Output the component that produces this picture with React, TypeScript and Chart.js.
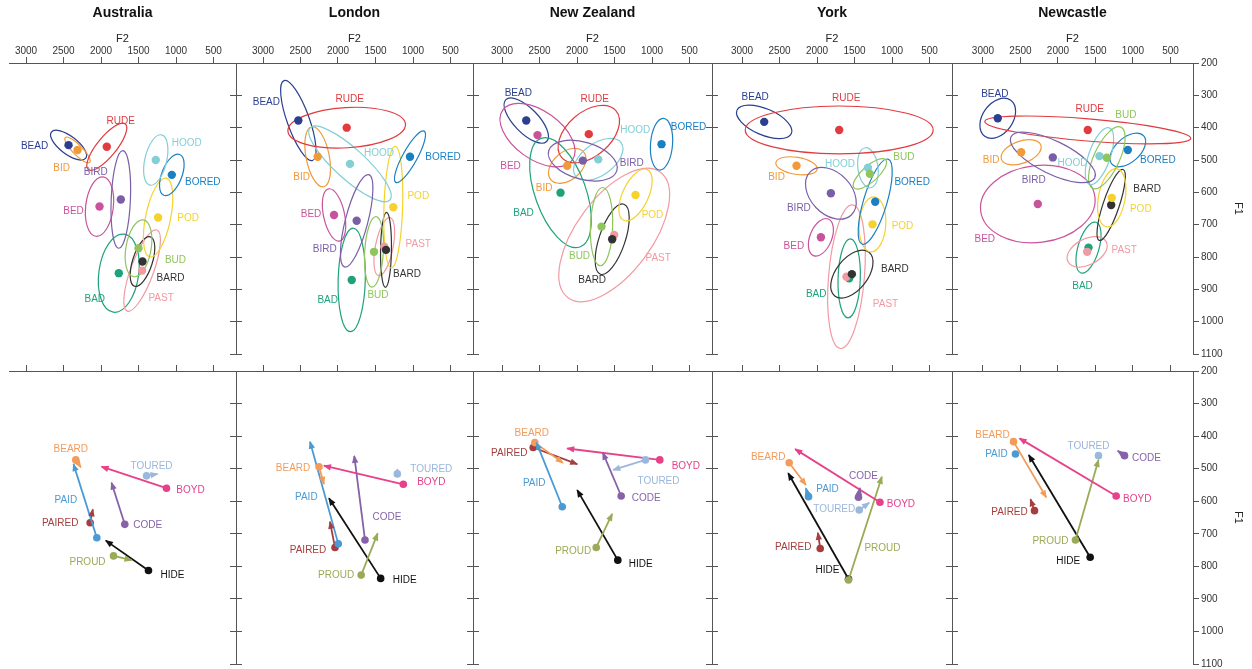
import React, { useEffect, useRef } from "react";
import { Chart, registerables } from "chart.js";

Chart.register(...registerables);
Chart.defaults.font.family = '"Liberation Sans", Arial, Helvetica, sans-serif';

// ---------- categories ----------
const REGIONS = ["Australia", "London", "New Zealand", "York", "Newcastle"];
const MONO = ["BEAD", "BID", "BED", "BAD", "PAST", "BARD", "POD", "BORED", "HOOD", "RUDE", "BUD", "BIRD"];
const DIPH = ["BEARD", "PAID", "PAIRED", "TOURED", "BOYD", "CODE", "PROUD", "HIDE"];
const F2_TICKS = [3000, 2500, 2000, 1500, 1000, 500];
const F1_TICKS = [200, 300, 400, 500, 600, 700, 800, 900, 1000, 1100];

// ---------- monophthongs: mean F2, mean F1, ellipse half-extent F2 / F1 (Hz), F2–F1 correlation ----------
const ausMonoF2 = [2433, 2313, 2020, 1763, 1452, 1447, 1239, 1056, 1270, 1923, 1500, 1736];
const ausMonoF1 = [454, 469, 644, 850, 842, 814, 678, 546, 500, 459, 773, 622];
const ausSpreadF2 = [240, 169, 189, 273, 244, 164, 196, 164, 162, 267, 178, 131];
const ausSpreadF1 = [46, 40, 92, 121, 126, 77, 122, 64, 78, 73, 88, 151];
const ausCorr = [-0.7, -0.85, 0.2, 0.2, 0.75, 0.55, 0.5, 0.5, 0.4, 0.8, 0.3, 0.2];

const lonMonoF2 = [2529, 2271, 2053, 1817, 1383, 1360, 1263, 1040, 1840, 1884, 1520, 1751];
const lonMonoF1 = [378, 490, 670, 871, 768, 778, 646, 490, 512, 400, 784, 688];
const lonSpreadF2 = [236, 171, 156, 182, 138, 73, 127, 207, 549, 784, 127, 216];
const lonSpreadF1 = [124, 93, 81, 160, 90, 116, 188, 80, 117, 63, 109, 143];
const lonCorr = [-0.75, -0.4, -0.4, 0.1, 0.5, 0.1, 0.2, 0.85, -0.85, 0.15, 0.2, 0.7];

const nzMonoF2 = [2677, 2131, 2527, 2220, 1504, 1531, 1220, 873, 1717, 1843, 1673, 1923];
const nzMonoF1 = [378, 518, 423, 601, 732, 745, 608, 451, 498, 420, 706, 502];
const nzSpreadF2 = [296, 249, 500, 411, 738, 227, 222, 149, 329, 409, 149, 460];
const nzSpreadF1 = [70, 54, 98, 170, 206, 109, 80, 80, 65, 89, 121, 63];
const nzCorr = [-0.7, 0.4, -0.5, -0.5, 0.6, 0.6, 0.55, 0.15, 0.5, 0.45, 0.1, -0.35];

const yorkMonoF2 = [2704, 2273, 1948, 1571, 1607, 1535, 1260, 1224, 1321, 1704, 1295, 1815];
const yorkMonoF1 = [382, 518, 739, 866, 861, 853, 699, 629, 524, 407, 543, 603];
const yorkSpreadF2 = [369, 276, 167, 149, 251, 282, 178, 227, 138, 1253, 222, 338];
const yorkSpreadF1 = [52, 28, 58, 122, 222, 74, 85, 132, 62, 74, 47, 80];
const yorkCorr = [-0.55, -0.3, 0.4, 0.1, 0.3, 0.5, 0.1, 0.7, -0.2, 0, 0.75, -0.35];

const ncMonoF2 = [2803, 2491, 2269, 1593, 1611, 1291, 1283, 1069, 1447, 1603, 1349, 2069];
const ncMonoF1 = [371, 476, 636, 771, 784, 639, 617, 469, 488, 407, 493, 492];
const ncSpreadF2 = [238, 267, 764, 167, 267, 189, 189, 238, 189, 1373, 244, 567];
const ncSpreadF1 = [62, 39, 120, 79, 47, 110, 90, 52, 88, 43, 96, 78];
const ncCorr = [0.35, 0.4, 0.1, 0.5, 0.4, 0.8, 0.3, 0.5, 0.6, -0.6, 0.65, -0.7];

// ---------- diphthongs: onset and offset (F2, F1) ----------
const ausOnF2 = [2336, 2056, 2145, 1393, 1127, 1683, 1833, 1367];
const ausOnF1 = [473, 712, 666, 522, 560, 671, 768, 813];
const ausOffF2 = [2269, 2367, 2109, 1247, 1993, 1860, 1593, 1936];
const ausOffF1 = [496, 486, 625, 516, 494, 543, 781, 721];

const lonOnF2 = [2253, 1996, 2040, 1209, 1129, 1640, 1691, 1431];
const lonOnF1 = [494, 731, 742, 516, 548, 719, 827, 837];
const lonOffF2 = [2187, 2373, 2107, 1209, 2187, 1783, 1471, 2120];
const lonOffF1 = [547, 417, 663, 502, 491, 461, 699, 591];

const nzOnF2 = [2563, 2197, 2584, 1087, 896, 1411, 1744, 1456];
const nzOnF1 = [420, 617, 435, 473, 473, 584, 742, 781];
const nzOffF2 = [2189, 2540, 1997, 1517, 2131, 1656, 1531, 1997];
const nzOffF1 = [482, 420, 486, 504, 438, 451, 639, 566];

const yorkOnF2 = [2371, 2113, 1957, 1437, 1161, 1447, 1580, 1580];
const yorkOnF1 = [482, 586, 745, 627, 603, 588, 842, 839];
const yorkOffF2 = [2148, 2148, 1988, 1304, 2291, 1428, 1135, 2384];
const yorkOffF1 = [550, 560, 697, 605, 440, 559, 525, 514];

const ncOnF2 = [2593, 2567, 2313, 1460, 1224, 1113, 1767, 1571];
const ncOnF1 = [417, 455, 629, 460, 584, 460, 719, 772];
const ncOffF2 = [2157, 2567, 2367, 1460, 2513, 1203, 1460, 2389];
const ncOffF1 = [588, 455, 594, 460, 407, 445, 473, 458];

const MONO_SETS = [
  { f2: ausMonoF2, f1: ausMonoF1, sF2: ausSpreadF2, sF1: ausSpreadF1, r: ausCorr },
  { f2: lonMonoF2, f1: lonMonoF1, sF2: lonSpreadF2, sF1: lonSpreadF1, r: lonCorr },
  { f2: nzMonoF2, f1: nzMonoF1, sF2: nzSpreadF2, sF1: nzSpreadF1, r: nzCorr },
  { f2: yorkMonoF2, f1: yorkMonoF1, sF2: yorkSpreadF2, sF1: yorkSpreadF1, r: yorkCorr },
  { f2: ncMonoF2, f1: ncMonoF1, sF2: ncSpreadF2, sF1: ncSpreadF1, r: ncCorr },
];
const DIPH_SETS = [
  { onF2: ausOnF2, onF1: ausOnF1, offF2: ausOffF2, offF1: ausOffF1 },
  { onF2: lonOnF2, onF1: lonOnF1, offF2: lonOffF2, offF1: lonOffF1 },
  { onF2: nzOnF2, onF1: nzOnF1, offF2: nzOffF2, offF1: nzOffF1 },
  { onF2: yorkOnF2, onF1: yorkOnF1, offF2: yorkOffF2, offF1: yorkOffF1 },
  { onF2: ncOnF2, onF1: ncOnF1, offF2: ncOffF2, offF1: ncOffF1 },
];

// ---------- styles & layout ----------
const MONO_COLORS = ["#2a3f8f", "#f09a3a", "#c9539b", "#1fa27b", "#f29aa2", "#333333", "#f5d22e", "#1b80c2", "#82cfd6", "#e13b40", "#8fc55c", "#7a5fa8"];
const DIPH_COLORS = ["#f39c5a", "#4a9ad6", "#a63e3e", "#9bb7dd", "#e6418a", "#8762a8", "#9aab57", "#111111"];
const AXIS_COLOR = "#555555";
const LABEL_FONT = '10px "Liberation Sans", Arial, sans-serif';

// label offsets (px) from each dot
const MONO_LABEL_OFFSETS = [
  [[-34, 1], [-16, 18], [-26, 5], [-24, 26], [19, 28], [28, 17], [30, 1], [31, 7], [31, -17], [14, -25], [37, 12], [-25, -27]],
  [[-32, -18], [-16, 20], [-23, -1], [-24, 20], [34, -2], [21, 24], [25, -11], [33, 0], [29, -11], [3, -28], [4, 43], [-32, 28]],
  [[-8, -27], [-23, 22], [-27, 31], [-37, 21], [44, 23], [-20, 41], [17, 20], [27, -17], [37, -29], [6, -35], [-22, 30], [49, 3]],
  [[-9, -25], [-20, 11], [-27, 9], [-33, 16], [39, 28], [43, -5], [30, 2], [37, -19], [-28, -4], [7, -32], [34, -17], [-32, 15]],
  [[-3, -24], [-30, 8], [-53, 35], [-6, 39], [37, -2], [36, -16], [29, 11], [30, 10], [-27, 7], [2, -21], [19, -42], [-19, 23]],
];
const DIPH_LABEL_OFFSETS = [
  [[-5, -11], [-31, -37], [-30, 1], [5, -10], [24, 2], [23, 1], [-26, 6], [24, 5]],
  [[-26, 2], [-32, -47], [-27, 3], [34, -5], [28, -2], [22, -23], [-25, 0], [24, 2]],
  [[-3, -9], [-28, -24], [-24, 6], [13, 21], [26, 6], [25, 2], [-23, 4], [23, 4]],
  [[-21, -6], [19, -7], [-27, -1], [-25, -1], [21, 2], [5, -21], [34, -32], [-21, -9]],
  [[-21, -6], [-19, 0], [-25, 2], [-10, -9], [21, 3], [22, 3], [-25, 1], [-22, 4]],
];

const PANEL_EDGES = [9, 236, 473, 712, 952, 1193];
const F2_MIN = 200;
const F2_MAX = [3227, 3360, 3387, 3400, 3413];
const ROWS = [
  { canvasTop: 0, canvasHeight: 362, areaTop: 63, areaBottom: 354 },
  { canvasTop: 355, canvasHeight: 320, areaTop: 371, areaBottom: 664 },
];
const TITLE_SIZE = 14;
const TITLE_PAD = 5;
const SIDE = 12;
const RIGHT_AXIS_LAST = 52;

function canvasBox(p: number, row: number) {
  const left = PANEL_EDGES[p] - SIDE;
  const right = p === 4 ? 1252 : PANEL_EDGES[p + 1] + SIDE;
  const g = ROWS[row];
  return { left, width: right - left, top: g.canvasTop, height: g.canvasHeight };
}

function makeConfig(p: number, row: number): any {
  const isFirst = p === 0;
  const isLast = p === 4;
  const g = ROWS[row];
  const box = canvasBox(p, row);
  const titleH = row === 0 ? TITLE_SIZE * 1.2 + TITLE_PAD : 0;
  const xAxisH = g.areaTop - g.canvasTop - titleH;
  const leftW = isFirst ? 0 : 6;
  const rightW = isLast ? RIGHT_AXIS_LAST : 6;
  const padLeft = SIDE - leftW;
  const padRight = box.left + box.width - PANEL_EDGES[p + 1] - rightW;
  const padBottom = g.canvasTop + g.canvasHeight - g.areaBottom;

  const grid = { display: true, drawOnChartArea: false, drawTicks: true, tickLength: 6, color: AXIS_COLOR, lineWidth: 1 };
  const border = { display: true, color: AXIS_COLOR, width: 1 };
  const f1Ticks = (s: any) => { s.ticks = F1_TICKS.map((v) => ({ value: v })); };
  const noPad = (s: any) => { s.paddingLeft = 0; s.paddingRight = 0; s.paddingTop = 0; s.paddingBottom = 0; };

  let datasets: any[];
  if (row === 0) {
    const m = MONO_SETS[p];
    datasets = [{
      data: m.f2.map((v, j) => ({ x: v, y: m.f1[j] })),
      pointBackgroundColor: MONO_COLORS,
      pointBorderWidth: 0,
      pointRadius: 4.2,
      pointHoverRadius: 4.2,
      showLine: false,
    }];
  } else {
    const d = DIPH_SETS[p];
    datasets = DIPH.map((_, j) => ({
      data: [{ x: d.onF2[j], y: d.onF1[j] }, { x: d.offF2[j], y: d.offF1[j] }],
      showLine: true,
      borderColor: DIPH_COLORS[j],
      borderWidth: 1.8,
      pointBackgroundColor: DIPH_COLORS[j],
      pointBorderWidth: 0,
      pointRadius: [3.8, 0],
      pointHoverRadius: [3.8, 0],
    }));
  }

  const decor = {
    id: "vowelDecor",
    beforeDatasetsDraw(chart: any) {
      if (row !== 0) return;
      const m = MONO_SETS[p];
      const { ctx, chartArea } = chart;
      const xs = chart.scales.x;
      const ys = chart.scales.y;
      ctx.save();
      ctx.beginPath();
      ctx.rect(chartArea.left, chartArea.top, chartArea.right - chartArea.left, chartArea.bottom - chartArea.top);
      ctx.clip();
      m.f2.forEach((f2, j) => {
        const cx = xs.getPixelForValue(f2);
        const cy = ys.getPixelForValue(m.f1[j]);
        const sx = xs.getPixelForValue(f2 + m.sF2[j]) - cx;
        const sy = ys.getPixelForValue(m.f1[j] + m.sF1[j]) - cy;
        const a = sx * sx;
        const c = sy * sy;
        const b = m.r[j] * sx * sy;
        const mean = (a + c) / 2;
        const dd = Math.sqrt(((a - c) / 2) ** 2 + b * b);
        const r1 = Math.sqrt(mean + dd);
        const r2 = Math.sqrt(Math.max(mean - dd, 0.5));
        const th = 0.5 * Math.atan2(2 * b, a - c);
        ctx.beginPath();
        ctx.ellipse(cx, cy, r1, r2, th, 0, Math.PI * 2);
        ctx.strokeStyle = MONO_COLORS[j];
        ctx.lineWidth = 1.2;
        ctx.stroke();
      });
      ctx.restore();
    },
    afterDatasetsDraw(chart: any) {
      const { ctx } = chart;
      ctx.save();
      ctx.font = LABEL_FONT;
      ctx.textAlign = "center";
      ctx.textBaseline = "middle";
      if (row === 0) {
        const meta = chart.getDatasetMeta(0);
        MONO.forEach((name, j) => {
          const pt = meta.data[j];
          const [dx, dy] = MONO_LABEL_OFFSETS[p][j];
          ctx.fillStyle = MONO_COLORS[j];
          ctx.fillText(name, pt.x + dx, pt.y + dy);
        });
      } else {
        DIPH.forEach((name, j) => {
          const meta = chart.getDatasetMeta(j);
          const p0 = meta.data[0];
          const p1 = meta.data[1];
          const vx = p1.x - p0.x;
          const vy = p1.y - p0.y;
          const len = Math.hypot(vx, vy);
          if (len >= 1) {
            const ux = vx / len;
            const uy = vy / len;
            const L = 7;
            const W = 3.2;
            ctx.beginPath();
            ctx.moveTo(p1.x + ux, p1.y + uy);
            ctx.lineTo(p1.x - ux * L - uy * W, p1.y - uy * L + ux * W);
            ctx.lineTo(p1.x - ux * L + uy * W, p1.y - uy * L - ux * W);
            ctx.closePath();
            ctx.fillStyle = DIPH_COLORS[j];
            ctx.fill();
          }
          const [dx, dy] = DIPH_LABEL_OFFSETS[p][j];
          ctx.fillStyle = DIPH_COLORS[j];
          ctx.fillText(name, p0.x + dx, p0.y + dy);
        });
      }
      ctx.restore();
    },
  };

  return {
    type: "scatter",
    data: { datasets },
    plugins: [decor],
    options: {
      responsive: false,
      animation: false,
      events: [],
      layout: { padding: { left: padLeft, right: padRight, top: 0, bottom: padBottom } },
      plugins: {
        legend: { display: false },
        tooltip: { enabled: false },
        title: {
          display: row === 0,
          text: REGIONS[p],
          fullSize: false,
          color: "#111",
          font: { size: TITLE_SIZE, weight: "bold" },
          padding: { top: TITLE_PAD, bottom: 0 },
        },
      },
      scales: {
        x: {
          type: "linear",
          position: "top",
          min: F2_MIN,
          max: F2_MAX[p],
          reverse: true,
          afterBuildTicks: (s: any) => { s.ticks = F2_TICKS.map((v) => ({ value: v })); },
          afterFit: (s: any) => { s.height = xAxisH; noPad(s); },
          grid,
          border,
          ticks: {
            display: row === 0,
            padding: 0,
            maxRotation: 0,
            autoSkip: false,
            color: "#333",
            font: { size: 10 },
            callback: (v: any) => String(v),
          },
          title: {
            display: row === 0,
            text: "F2",
            color: "#222",
            font: { size: 11 },
            padding: { top: 10.8, bottom: 0 },
          },
        },
        y: {
          type: "linear",
          position: "left",
          display: !isFirst,
          min: 200,
          max: 1100,
          reverse: true,
          afterBuildTicks: f1Ticks,
          afterFit: (s: any) => { s.width = leftW; noPad(s); },
          grid,
          border,
          ticks: { display: false },
        },
        y2: {
          type: "linear",
          position: "right",
          min: 200,
          max: 1100,
          reverse: true,
          afterBuildTicks: f1Ticks,
          afterFit: (s: any) => { s.width = rightW; noPad(s); },
          grid,
          border,
          ticks: {
            display: isLast,
            padding: 2,
            autoSkip: false,
            color: "#333",
            font: { size: 10 },
            callback: (v: any) => String(v),
          },
          title: {
            display: isLast,
            text: "F1",
            color: "#222",
            font: { size: 11 },
            padding: { top: 0, bottom: 0 },
          },
        },
      },
    },
  };
}

export default function App() {
  const refs = useRef<(HTMLCanvasElement | null)[]>([]);

  useEffect(() => {
    const charts: Chart[] = [];
    for (let row = 0; row < 2; row++) {
      for (let p = 0; p < 5; p++) {
        const cv = refs.current[row * 5 + p];
        if (cv) charts.push(new Chart(cv, makeConfig(p, row)));
      }
    }
    return () => charts.forEach((c) => c.destroy());
  }, []);

  const canvases: React.ReactNode[] = [];
  for (let row = 0; row < 2; row++) {
    for (let p = 0; p < 5; p++) {
      const b = canvasBox(p, row);
      const idx = row * 5 + p;
      canvases.push(
        <canvas
          key={idx}
          ref={(el) => { refs.current[idx] = el; }}
          width={b.width}
          height={b.height}
          style={{ position: "absolute", left: b.left, top: b.top, width: b.width, height: b.height }}
        />
      );
    }
  }

  return (
    <div style={{ position: "fixed", left: 0, top: 0, width: 1252, height: 669, overflow: "hidden", background: "#ffffff" }}>
      {canvases}
    </div>
  );
}
